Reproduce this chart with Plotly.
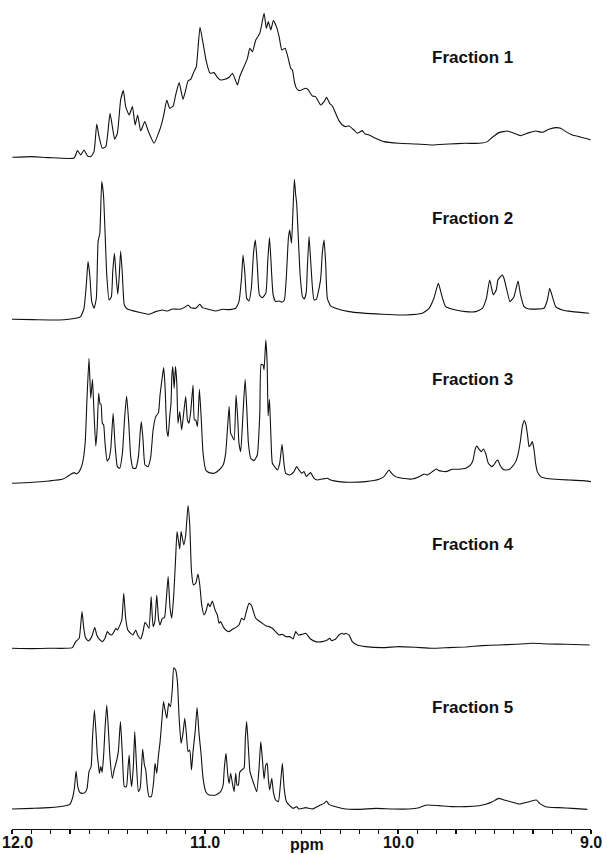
import plotly.graph_objects as go

# ---------------- data ----------------
fraction_labels = ["Fraction 1", "Fraction 2", "Fraction 3", "Fraction 4", "Fraction 5"]
tick_values = [12.0, 11.0, 10.0, 9.0]
tick_labels = ["12.0", "11.0", "10.0", "9.0"]
x_title = "ppm"

f1_ppm = [11.998, 11.894, 11.808, 11.678, 11.661, 11.644, 11.627, 11.609, 11.592, 11.575,
          11.561, 11.549, 11.532, 11.514, 11.492, 11.480, 11.468, 11.454, 11.437, 11.423,
          11.411, 11.393, 11.376, 11.362, 11.349, 11.333, 11.312, 11.293, 11.264, 11.241,
          11.224, 11.212, 11.198, 11.183, 11.165, 11.152, 11.134, 11.114, 11.100, 11.088,
          11.074, 11.057, 11.045, 11.026, 11.010, 10.993, 10.974, 10.953, 10.936, 10.919,
          10.896, 10.875, 10.858, 10.846, 10.832, 10.820, 10.798, 10.780, 10.768, 10.754,
          10.737, 10.716, 10.694, 10.682, 10.672, 10.659, 10.646, 10.630, 10.616, 10.602,
          10.585, 10.571, 10.556, 10.547, 10.537, 10.526,
          10.513, 10.478, 10.465, 10.444, 10.427, 10.401, 10.383, 10.370, 10.354, 10.340,
          10.323, 10.306, 10.288, 10.271, 10.254, 10.228, 10.211, 10.185, 10.171, 10.150,
          10.116, 10.073, 9.995, 9.909, 9.822, 9.736, 9.649, 9.580, 9.537, 9.511,
          9.477, 9.434, 9.399, 9.365, 9.321, 9.287, 9.252, 9.218, 9.183, 9.157,
          9.131, 9.097, 9.062, 9.028, 9.002]
f1_int = [0, 2, -1, -2, 20, 7, 22, 4, 2, 17,
          100, 62, 27, 32, 132, 92, 54, 72, 172, 200,
          152, 127, 152, 97, 127, 79, 107, 77, 42, 72,
          102, 132, 172, 147, 154, 187, 224, 174, 202, 229,
          234, 257, 272, 390, 342, 287, 252, 254, 240, 232,
          234, 240, 252, 237, 217, 242, 272, 297, 327, 317,
          352, 372, 432, 387, 407, 382, 410, 392, 362, 322,
          327, 302, 267, 262, 227, 207,
          200, 207, 202, 184, 182, 157, 167, 180, 162, 154,
          132, 110, 97, 92, 94, 82, 72, 80, 70, 67,
          57, 47, 42, 40, 37, 40, 42, 42, 47, 60,
          74, 79, 72, 65, 74, 79, 75, 84, 89, 87,
          77, 67, 62, 57, 52]

f2_ppm = [12.001, 11.894, 11.756, 11.670, 11.644, 11.627, 11.615, 11.606, 11.597, 11.587,
          11.575, 11.563, 11.554, 11.545, 11.535, 11.526, 11.518, 11.509, 11.497, 11.485,
          11.478, 11.469, 11.461, 11.452, 11.445, 11.437, 11.428, 11.418, 11.402, 11.376,
          11.342, 11.290, 11.255, 11.221, 11.195, 11.169, 11.134, 11.108, 11.088, 11.074,
          11.048, 11.027, 11.013, 10.988, 10.944, 10.910, 10.875, 10.841, 10.824, 10.811,
          10.803, 10.794, 10.784, 10.772, 10.760, 10.748, 10.739, 10.730, 10.718, 10.703,
          10.685, 10.675, 10.666, 10.658, 10.647, 10.634, 10.616, 10.602, 10.589, 10.578,
          10.568, 10.561, 10.552, 10.545, 10.537, 10.530, 10.525, 10.518, 10.507, 10.495,
          10.485, 10.475,
          10.470, 10.461, 10.453, 10.444, 10.435, 10.423, 10.401, 10.392, 10.383, 10.375,
          10.366, 10.349, 10.323, 10.254, 10.081, 9.960, 9.874, 9.839, 9.814, 9.791,
          9.774, 9.753, 9.701, 9.649, 9.598, 9.563, 9.542, 9.525, 9.506, 9.491,
          9.482, 9.460, 9.451, 9.434, 9.420, 9.399, 9.378, 9.365, 9.347, 9.321,
          9.244, 9.226, 9.214, 9.200, 9.183, 9.149, 9.097, 9.010]
f2_int = [0, -1, -2, 3, 8, 33, 103, 173, 133, 53,
          33, 63, 233, 258, 413, 373, 263, 133, 58, 68,
          143, 198, 133, 75, 123, 205, 133, 43, 31, 26,
          21, 15, 23, 28, 25, 31, 30, 35, 43, 35,
          33, 45, 35, 31, 25, 30, 29, 33, 53, 123,
          193, 143, 63, 55, 93, 203, 238, 173, 73, 65,
          78, 173, 245, 173, 73, 53, 55, 51, 58, 133,
          243, 268, 228, 313, 420, 373, 348, 263, 133, 68,
          61, 83,
          150, 248, 180, 100, 58, 60, 120, 200, 238, 170,
          63, 40, 33, 23, 15, 13, 18, 33, 63, 108,
          73, 38, 28, 23, 23, 33, 63, 118, 73, 88,
          118, 133, 123, 83, 53, 68, 115, 73, 38, 31,
          33, 58, 93, 68, 38, 28, 23, 18]

f3_ppm = [12.001, 11.894, 11.808, 11.739, 11.713, 11.696, 11.678, 11.666, 11.652, 11.635,
          11.621, 11.611, 11.601, 11.592, 11.583, 11.575, 11.566, 11.559, 11.551, 11.544,
          11.539, 11.532, 11.525, 11.518, 11.507, 11.497, 11.488, 11.476, 11.466, 11.454,
          11.442, 11.428, 11.416, 11.406, 11.395, 11.385, 11.373, 11.359, 11.345, 11.336,
          11.330, 11.321, 11.311, 11.295, 11.281, 11.269, 11.255, 11.241, 11.233, 11.221,
          11.214, 11.207, 11.198, 11.191, 11.183, 11.176, 11.172, 11.167, 11.160, 11.153,
          11.146, 11.140, 11.131, 11.121, 11.112, 11.100, 11.091, 11.083, 11.074, 11.062,
          11.055, 11.048, 11.039, 11.029, 11.020, 11.010, 10.996, 10.979, 10.953, 10.927,
          10.906, 10.893, 10.884, 10.875, 10.867, 10.858, 10.849, 10.839, 10.830, 10.824,
          10.815, 10.803, 10.792, 10.784, 10.775, 10.763, 10.746, 10.729, 10.716, 10.709,
          10.699, 10.694, 10.685, 10.678, 10.673, 10.666, 10.659, 10.651, 10.639, 10.625,
          10.613, 10.601, 10.590, 10.582, 10.564, 10.551, 10.539, 10.525, 10.513,
          10.499, 10.487, 10.475, 10.453, 10.435, 10.418, 10.392, 10.366, 10.349, 10.306,
          10.254, 10.168, 10.098, 10.073, 10.060, 10.047, 10.033, 10.012, 9.978, 9.926,
          9.891, 9.865, 9.848, 9.822, 9.801, 9.788, 9.753, 9.718, 9.684, 9.649,
          9.624, 9.611, 9.601, 9.592, 9.580, 9.568, 9.558, 9.546, 9.532, 9.515,
          9.503, 9.489, 9.482, 9.472, 9.456, 9.442, 9.422, 9.408, 9.390, 9.377,
          9.365, 9.356, 9.346, 9.337, 9.328, 9.321, 9.313, 9.304, 9.295, 9.287,
          9.278, 9.261, 9.235, 9.183, 9.114, 9.045, 9.000]
f3_int = [0, 3, 7, 12, 20, 27, 32, 28, 35, 60,
          120, 260, 375, 255, 312, 210, 112, 160, 270, 238,
          238, 180, 175, 120, 67, 75, 105, 210, 115, 50,
          45, 90, 200, 262, 180, 80, 45, 45, 80, 150,
          185, 130, 55, 50, 80, 160, 200, 212, 265, 320,
          347, 290, 160, 140, 200, 240, 320, 350, 285, 350,
          300, 180, 215, 160, 202, 260, 190, 180, 215, 295,
          190, 190, 170, 282, 200, 90, 40, 32, 30, 40,
          55, 90, 160, 230, 150, 140, 130, 265, 190, 120,
          95, 210, 312, 230, 120, 75, 68, 85, 210, 357,
          355, 340, 430, 360, 202, 252, 150, 60, 50, 40,
          60, 117, 55, 30, 25, 28, 35, 50, 40,
          30, 35, 20, 32, 15, 10, 13, 15, 10, 5,
          3, 5, 12, 20, 30, 40, 30, 20, 15, 13,
          20, 28, 25, 35, 43, 38, 35, 42, 42, 45,
          55, 70, 100, 112, 102, 95, 103, 90, 60, 50,
          55, 68, 70, 55, 42, 40, 42, 50, 65, 90,
          130, 170, 188, 175, 140, 110, 115, 125, 100, 60,
          35, 20, 15, 12, 10, 8, 5]

f4_ppm = [12.001, 11.894, 11.808, 11.722, 11.687, 11.670, 11.652, 11.644, 11.637, 11.628,
          11.618, 11.604, 11.587, 11.571, 11.561, 11.549, 11.532, 11.518, 11.506, 11.494,
          11.483, 11.471, 11.462, 11.454, 11.442, 11.431, 11.421, 11.411, 11.400, 11.385,
          11.373, 11.359, 11.349, 11.333, 11.321, 11.311, 11.300, 11.290, 11.279, 11.269,
          11.260, 11.250, 11.241, 11.233, 11.221, 11.210, 11.200, 11.191, 11.181, 11.172,
          11.162, 11.153, 11.145, 11.138, 11.131, 11.124, 11.117, 11.110, 11.100, 11.088,
          11.079, 11.070, 11.060, 11.048, 11.036, 11.027, 11.017, 11.005, 10.993, 10.984,
          10.974, 10.962, 10.948, 10.936, 10.927, 10.919, 10.906, 10.893, 10.875, 10.858,
          10.841, 10.824, 10.810, 10.798, 10.786, 10.772, 10.760, 10.749, 10.737, 10.720,
          10.703, 10.685, 10.668, 10.651, 10.634, 10.616, 10.599, 10.582, 10.561, 10.544,
          10.530, 10.516,
          10.496, 10.478, 10.453, 10.427, 10.392, 10.366, 10.354, 10.344, 10.323, 10.306,
          10.288, 10.280, 10.271, 10.254, 10.237, 10.211, 10.168, 10.081, 9.995, 9.909,
          9.822, 9.736, 9.649, 9.563, 9.477, 9.390, 9.304, 9.218, 9.131, 9.007]
f4_int = [0, -1, 0, 0, 2, 20, 30, 70, 110, 60,
          30, 22, 35, 62, 40, 28, 20, 30, 50, 42,
          40, 50, 60, 55, 68, 85, 165, 90, 55, 45,
          40, 55, 40, 28, 50, 78, 70, 60, 155, 65,
          80, 160, 90, 70, 90, 92, 150, 215, 120, 90,
          160, 260, 350, 325, 298, 350, 330, 310, 340, 428,
          370, 230, 190, 195, 223, 190, 130, 100, 115, 135,
          125, 142, 115, 100, 75, 80, 65, 55, 50, 57,
          62, 70, 90, 85, 110, 135, 130, 110, 90, 82,
          75, 68, 65, 60, 50, 40, 42, 35, 35, 28,
          50, 40,
          42, 45, 28, 20, 20, 25, 30, 23, 28, 40,
          45, 42, 45, 40, 20, 10, 5, 2, 5, 3,
          0, 2, 4, 8, 10, 12, 15, 13, 12, 10]

f5_ppm = [12.007, 11.894, 11.808, 11.722, 11.701, 11.687, 11.677, 11.668, 11.659, 11.649,
          11.635, 11.621, 11.611, 11.601, 11.590, 11.583, 11.573, 11.564, 11.558, 11.552,
          11.547, 11.540, 11.533, 11.525, 11.518, 11.509, 11.501, 11.492, 11.480, 11.471,
          11.459, 11.449, 11.438, 11.428, 11.418, 11.407, 11.399, 11.393, 11.387, 11.380,
          11.371, 11.364, 11.355, 11.345, 11.336, 11.328, 11.323, 11.314, 11.307, 11.298,
          11.290, 11.278, 11.266, 11.259, 11.250, 11.241, 11.233, 11.224, 11.215, 11.207,
          11.198, 11.188, 11.179, 11.169, 11.162, 11.152, 11.143, 11.134, 11.124, 11.114,
          11.105, 11.096, 11.088, 11.079, 11.070, 11.062, 11.051, 11.041, 11.031, 11.020,
          11.010, 10.996, 10.979, 10.944, 10.919, 10.906, 10.900, 10.891, 10.882, 10.875,
          10.867, 10.858, 10.849, 10.841, 10.834, 10.827, 10.820, 10.810, 10.798, 10.791,
          10.784, 10.775, 10.767, 10.754, 10.742, 10.732, 10.720, 10.711, 10.703, 10.694,
          10.685, 10.678, 10.672, 10.665, 10.654, 10.646, 10.634, 10.620, 10.608, 10.599,
          10.590, 10.578, 10.561, 10.544, 10.525, 10.513,
          10.478, 10.444, 10.409, 10.383, 10.371, 10.358, 10.323, 10.271, 10.202, 10.116,
          10.029, 9.943, 9.891, 9.865, 9.848, 9.788, 9.718, 9.649, 9.580, 9.546,
          9.511, 9.477, 9.451, 9.416, 9.373, 9.321, 9.283, 9.266, 9.235, 9.166,
          9.097, 9.019]
f5_int = [0, 2, 4, 10, 14, 32, 62, 114, 67, 50,
          47, 50, 62, 112, 127, 212, 297, 222, 162, 132,
          107, 127, 110, 162, 242, 312, 242, 152, 92, 117,
          142, 172, 262, 162, 67, 67, 122, 162, 102, 67,
          132, 232, 132, 52, 62, 132, 180, 132, 117, 62,
          37, 37, 82, 137, 107, 162, 200, 262, 322, 297,
          272, 317, 307, 362, 424, 417, 382, 272, 197, 227,
          272, 222, 172, 177, 117, 172, 232, 304, 227, 162,
          92, 52, 42, 42, 52, 72, 122, 167, 102, 77,
          107, 77, 52, 107, 72, 72, 110, 117, 122, 212,
          262, 182, 112, 87, 67, 52, 122, 202, 152, 90,
          132, 137, 92, 57, 92, 52, 27, 22, 82, 137,
          62, 22, 10, 2, 7, 0,
          4, 0, 10, 17, 24, 14, 7, 0, -1, 2,
          0, 0, 4, 10, 12, 10, 7, 7, 10, 14,
          22, 32, 27, 22, 15, 22, 27, 17, 7, 4,
          2, -1]

series = [(f1_ppm, f1_int), (f2_ppm, f2_int), (f3_ppm, f3_int),
          (f4_ppm, f4_int), (f5_ppm, f5_int)]
for p, v in series:
    assert len(p) == len(v), (len(p), len(v))

# ---------------- layout ----------------
W, H = 607, 855
M_L, M_R, M_T, M_B = 12, 16, 0, 26
PH = H - M_T - M_B                      # plot height in px
PW = W - M_L - M_R
baselines_px = [157.3, 319.3, 483.3, 648.3, 809.0]   # baseline of each stacked panel
below_px, above_px = 8, 152
units_per_px = 3.0
label_y_px = [57, 218.5, 380, 544.5, 707.5]
label_x_px = 472.5
ticklabel_y_px = 842
title_y_px = 844

fig = go.Figure()
layout_axes = {}
for i, ((p, v), base) in enumerate(zip(series, baselines_px)):
    yname = "y" if i == 0 else f"y{i+1}"
    axname = "yaxis" if i == 0 else f"yaxis{i+1}"
    fig.add_trace(go.Scatter(x=p, y=v, mode="lines", xaxis="x", yaxis=yname,
                             line=dict(color="#111111", width=1.1,
                                       shape="spline", smoothing=0.45),
                             showlegend=False, hoverinfo="skip"))
    d0 = 1 - (base + below_px) / PH
    d1 = 1 - (base - above_px) / PH
    layout_axes[axname] = dict(domain=[max(0, d0), min(1, d1)],
                               range=[-below_px * units_per_px, above_px * units_per_px],
                               visible=False, fixedrange=True, anchor="x",
                               automargin=False)

fig.update_layout(**layout_axes)

fig.update_layout(
    width=W, height=H,
    margin=dict(l=M_L, r=M_R, t=M_T, b=M_B, pad=0, autoexpand=False),
    paper_bgcolor="white", plot_bgcolor="white",
    font=dict(family="Arial, Liberation Sans, sans-serif", color="#111111"),
    xaxis=dict(range=[12.0, 9.0], anchor="free", position=0, automargin=False,
               showline=True, linecolor="#111111", linewidth=1.2,
               showgrid=False, zeroline=False, fixedrange=True,
               tickmode="array", tickvals=tick_values, showticklabels=False,
               ticks="outside", ticklen=4, tickwidth=1.2, tickcolor="#111111",
               minor=dict(dtick=0.1, ticks="outside", ticklen=4, tickwidth=1.2,
                          tickcolor="#111111", showgrid=False)),
)

# tick labels, placed on the x axis scale
for val, txt in zip(tick_values, tick_labels):
    is_left_edge = (val == max(tick_values))
    fig.add_annotation(text=txt, xref="x", yref="paper", x=val,
                       y=-(ticklabel_y_px - PH) / PH,
                       xanchor="left" if is_left_edge else "center",
                       xshift=-M_L + 1 if is_left_edge else 0,
                       yanchor="middle", showarrow=False, borderpad=0,
                       font=dict(size=16, weight="bold", color="#111111"))

for txt, ypx in zip(fraction_labels, label_y_px):
    fig.add_annotation(text=txt, xref="paper", yref="paper",
                       x=(label_x_px - M_L) / PW, y=1 - ypx / PH,
                       xanchor="center", yanchor="middle", showarrow=False,
                       font=dict(size=17, weight="bold", color="#111111"))

fig.add_annotation(text=x_title, xref="paper", yref="paper",
                   x=(307 - M_L) / PW, y=-(title_y_px - PH) / PH,
                   xanchor="center", yanchor="middle", showarrow=False, borderpad=0,
                   font=dict(size=16, weight="bold", color="#111111"))

fig.write_html("out.html", config={"displayModeBar": False, "staticPlot": True},
               post_script="document.body.style.margin='0';"
               "document.body.style.padding='0';document.body.style.overflow='hidden';")
